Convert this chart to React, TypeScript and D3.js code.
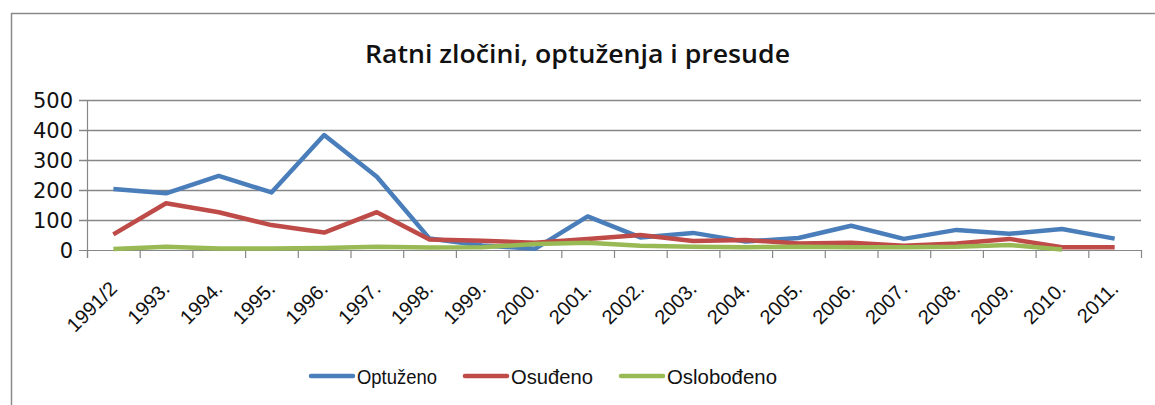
import React from "react";
import * as d3 from "d3";

const categories = ["1991/2","1993.","1994.","1995.","1996.","1997.","1998.","1999.","2000.","2001.","2002.","2003.","2004.","2005.","2006.","2007.","2008.","2009.","2010.","2011."];
const optuzeno = [203,189,247,192,383,244,38,15,4,112,42,57,28,40,81,37,67,54,70,38];
const osudjeno = [52,156,126,83,58,126,35,31,24,37,50,30,33,22,24,14,22,37,9,9];
const oslobodjeno: (number | null)[] = [3,11,5,5,7,11,8,9,20,24,14,11,9,11,9,9,11,17,2,null];
const yTicks = [0,100,200,300,400,500];
const seriesNames = ["Optuženo","Osuđeno","Oslobođeno"];
const colors = ["#4a7ebb","#be4b48","#98b954"];
const title = "Ratni zločini, optuženja i presude";

export default function App() {
  const W = 1155, H = 405;
  const left = 87, right = 1141, top = 100, bottom = 250;
  const x = d3.scaleBand<string>().domain(categories).range([left, right]).paddingInner(0).paddingOuter(0);
  const y = d3.scaleLinear().domain([0, 500]).range([bottom, top]);
  const cx = (c: string) => (x(c) as number) + x.bandwidth() / 2;
  const series = [optuzeno, osudjeno, oslobodjeno];
  const lineGen = d3.line<number | null>()
    .defined(d => d !== null)
    .x((_, i) => cx(categories[i]))
    .y(d => y(d as number));
  const boundaries = categories.map(c => x(c) as number).concat([right]);
  const legendX = [311, 465, 621];
  const legendTextW = [80, 82, 110];
  const axisColor = "#878787";
  return (
    <svg width={W} height={H} style={{ position: "absolute", left: 0, top: 0, background: "#fff" }}>
      <rect x={11.5} y={13.5} width={W + 10} height={H + 10} fill="#fff" stroke="#8a8a8a" strokeWidth={1.5} />
      <text x={365} y={63} textLength={425} lengthAdjust="spacingAndGlyphs" fontFamily="'Open Sans', 'Noto Sans', sans-serif" fontSize={26} fontWeight={600} fill="#111">{title}</text>
      {yTicks.map(t => (
        <g key={t}>
          <line x1={left - 8} x2={right} y1={Math.round(y(t)) + 0.5} y2={Math.round(y(t)) + 0.5} stroke={axisColor} strokeWidth={t === 0 ? 1.2 : 1.5} />
          <text x={73} y={y(t) + 7.5} textAnchor="end" fontFamily="'DejaVu Sans', sans-serif" fontSize={21} fill="#111">{t}</text>
        </g>
      ))}
      <line x1={left + 0.5} x2={left + 0.5} y1={top} y2={bottom + 8} stroke={axisColor} strokeWidth={1.2} />
      {boundaries.map((b, i) => (
        <line key={i} x1={b + 0.5} x2={b + 0.5} y1={bottom} y2={bottom + 8} stroke={axisColor} strokeWidth={1.2} />
      ))}
      {categories.map(c => (
        <text key={c} transform={`translate(${cx(c) + 5},${290}) rotate(-45)`} textAnchor="end" fontFamily="'Liberation Sans', sans-serif" fontSize={20} fill="#111">{c}</text>
      ))}
      {series.map((s, i) => (
        <path key={i} d={lineGen(s) || ""} fill="none" stroke={colors[i]} strokeWidth={4.5} strokeLinejoin="round" strokeLinecap="butt" />
      ))}
      {seriesNames.map((n, i) => (
        <g key={n}>
          <line x1={legendX[i]} x2={legendX[i] + 42} y1={376} y2={376} stroke={colors[i]} strokeWidth={4.5} strokeLinecap="round" />
          <text x={legendX[i] + 46} y={384} textLength={legendTextW[i]} lengthAdjust="spacingAndGlyphs" fontFamily="'Liberation Sans', sans-serif" fontSize={21} fill="#111">{n}</text>
        </g>
      ))}
    </svg>
  );
}
